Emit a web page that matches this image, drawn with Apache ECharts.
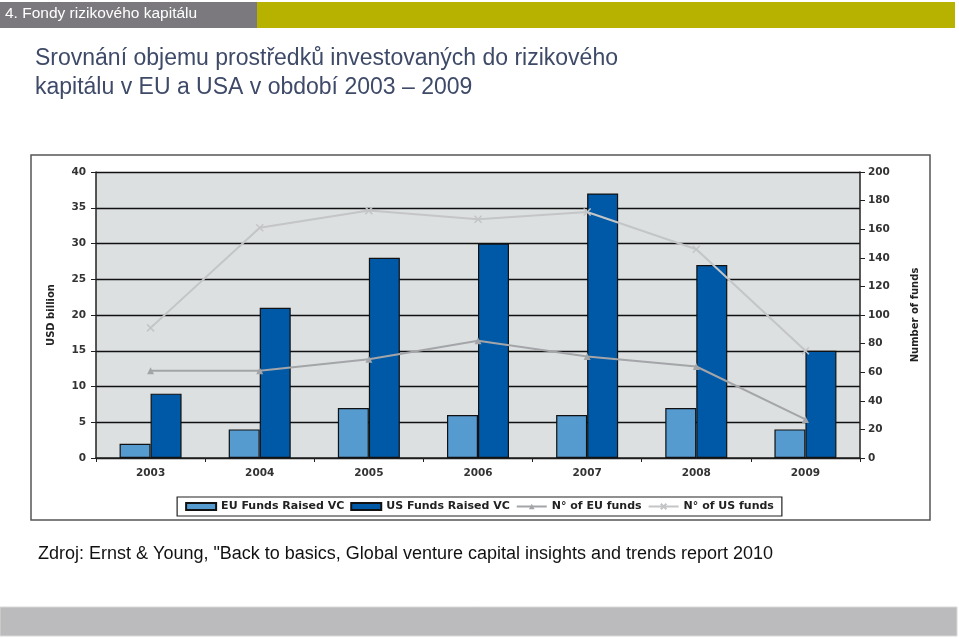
<!DOCTYPE html>
<html><head><meta charset="utf-8">
<script src="https://cdn.jsdelivr.net/npm/echarts@6/dist/echarts.min.js"></script>
<style>html,body{margin:0;padding:0;background:#fff}#c{width:959px;height:638px}</style>
</head><body><div id="c"></div>
<script>
const years = ['2003','2004','2005','2006','2007','2008','2009'];
const euRaised = [2, 4, 7, 6, 6, 7, 4];
const usRaised = [9, 21, 28, 30, 37, 27, 15];
const euFunds = [61, 61, 69, 82, 71, 64, 27];
const usFunds = [91, 161, 173, 167, 172, 146, 75];
const leftTicks = [0, 5, 10, 15, 20, 25, 30, 35, 40];
const rightTicks = [0, 20, 40, 60, 80, 100, 120, 140, 160, 180, 200];

const FONT = 'Liberation Sans, Arial, sans-serif';
const CFONT = 'DejaVu Sans, Verdana, sans-serif';
const chart = echarts.init(document.getElementById('c'), null, {renderer: 'canvas'});
const axisLbl = {fontFamily: CFONT, fontSize: 10.5, fontWeight: 'bold', color: '#333'};

chart.setOption({
  animation: false,
  backgroundColor: '#fff',
  graphic: [
    {type: 'rect', z: -10, shape: {x: 0, y: 2, width: 257, height: 26}, style: {fill: '#7b797d'}},
    {type: 'rect', z: -10, shape: {x: 257, y: 2, width: 698, height: 26}, style: {fill: '#b7b200'}},
    {type: 'rect', z: -10, shape: {x: 0, y: 607, width: 957, height: 29}, style: {fill: '#bbbbbd', stroke: '#d8d8d8', lineWidth: 1}},
    {type: 'rect', z: -10, shape: {x: 31, y: 155, width: 899, height: 365}, style: {fill: '#fff', stroke: '#555', lineWidth: 1.5}},
    {type: 'rect', z: -9, shape: {x: 96, y: 172, width: 764, height: 286}, style: {fill: '#dde0e0'}},
    {type: 'text', left: 5, top: 6, style: {text: '4. Fondy rizikového kapitálu', fontFamily: FONT, fontSize: 15.5, fill: '#fff'}},
    {type: 'text', left: 35, top: 44, style: {text: 'Srovnání objemu prostředků investovaných do rizikového\nkapitálu v EU a USA v období 2003 – 2009', fontFamily: FONT, fontSize: 23, lineHeight: 29, fill: '#3e4a68'}},
    {type: 'text', left: 38, top: 545, style: {text: 'Zdroj: Ernst & Young, "Back to basics, Global venture capital insights and trends report 2010', fontFamily: FONT, fontSize: 18, fill: '#111'}}
  ],
  grid: {left: 96, right: 99, top: 172, bottom: 180, containLabel: false},
  legend: {
    bottom: 122, left: 'center',
    backgroundColor: '#fff', borderColor: '#222', borderWidth: 1.2,
    padding: [4, 8, 4, 8], itemGap: 6, itemWidth: 30, itemHeight: 7,
    textStyle: {fontFamily: CFONT, fontSize: 11, color: '#222', fontWeight: 'bold'},
    data: [
      {name: 'EU Funds Raised VC', icon: 'rect'},
      {name: 'US Funds Raised VC', icon: 'rect'},
      {name: 'N° of EU funds'},
      {name: 'N° of US funds'}
    ]
  },
  xAxis: {
    type: 'category', data: years, boundaryGap: true,
    axisLine: {lineStyle: {color: '#222', width: 1.5}},
    axisTick: {show: true, length: 4, lineStyle: {color: '#222'}},
    axisLabel: Object.assign({margin: 10}, axisLbl)
  },
  yAxis: [
    {
      type: 'value', min: 0, max: 40, interval: 5,
      name: 'USD billion', nameLocation: 'middle', nameGap: 40, nameRotate: 90,
      nameTextStyle: {fontFamily: CFONT, fontSize: 10, fontWeight: 'bold', color: '#222'},
      axisLine: {show: true, lineStyle: {color: '#222', width: 1.5}},
      axisTick: {show: true, length: 5, lineStyle: {color: '#222'}},
      axisLabel: Object.assign({margin: 10, formatter: v => leftTicks.includes(v) ? String(v) : ''}, axisLbl),
      splitLine: {show: true, lineStyle: {color: '#111', width: 1.3}}
    },
    {
      type: 'value', min: 0, max: 200, interval: 20, position: 'right',
      name: 'Number of funds', nameLocation: 'middle', nameGap: 50, nameRotate: 90,
      nameTextStyle: {fontFamily: CFONT, fontSize: 10, fontWeight: 'bold', color: '#222'},
      axisLine: {show: true, lineStyle: {color: '#222', width: 1.5}},
      axisTick: {show: true, length: 5, lineStyle: {color: '#222'}},
      axisLabel: Object.assign({margin: 8, formatter: v => rightTicks.includes(v) ? String(v) : ''}, axisLbl),
      splitLine: {show: false}
    }
  ],
  series: [
    {name: 'EU Funds Raised VC', type: 'bar', data: euRaised, barWidth: 31, barGap: '0%',
     itemStyle: {color: '#569bd0', borderColor: '#111', borderWidth: 1.2}},
    {name: 'US Funds Raised VC', type: 'bar', data: usRaised, barWidth: 31, barGap: '0%',
     itemStyle: {color: '#0059a6', borderColor: '#111', borderWidth: 1.2}},
    {name: 'N° of EU funds', type: 'line', yAxisIndex: 1, data: euFunds,
     symbol: 'triangle', symbolSize: 7,
     lineStyle: {color: '#a3a5a8', width: 2}, itemStyle: {color: '#a3a5a8'}},
    {name: 'N° of US funds', type: 'line', yAxisIndex: 1, data: usFunds,
     symbol: 'path://M0,0L10,10M10,0L0,10', symbolSize: 7,
     lineStyle: {color: '#c3c5c7', width: 2}, itemStyle: {color: '#c3c5c7', borderColor: '#c3c5c7', borderWidth: 1.5}}
  ]
});
</script></body></html>
